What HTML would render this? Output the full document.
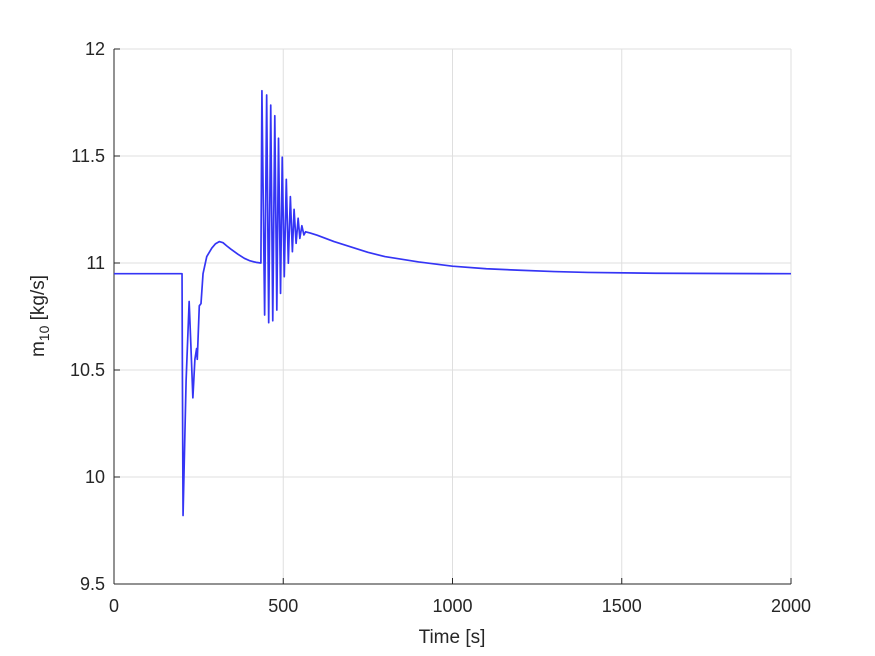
<!DOCTYPE html>
<html><head><meta charset="utf-8"><style>
body{margin:0;background:#fff;}
svg{display:block;font-family:"Liberation Sans",Arial,sans-serif;}
</style></head><body>
<svg id="chart" width="875" height="656">
<rect width="875" height="656" fill="#fff"/>
<g id="grid"></g>
<g id="axes"></g>
<path id="line" fill="none" stroke="#3535f5" stroke-width="1.7" stroke-linejoin="round"/>
<text x="452" y="643" text-anchor="middle" font-size="19" fill="#262626">Time [s]</text>
<text transform="translate(44,316) rotate(-90)" text-anchor="middle" font-size="19" fill="#262626">m<tspan font-size="14" dy="5">10</tspan><tspan dy="-5"> [kg/s]</tspan></text>
</svg>
<script>
const xTicks=[0,500,1000,1500,2000];
const yTicks=[9.5,10,10.5,11,11.5,12];
const yTickLabels=["9.5","10","10.5","11","11.5","12"];
const times=[0,201,202,204,213,222,227,233,239,244,246,252,257,263,274,289,300,311,322,333,345,367,385,402,420,433,434,437,445,451,457,463,469,475,481,486,492,497,503,509,515,521,527,532,538,544,549,555,561,566,580,600,650,700,750,800,900,1000,1100,1200,1300,1400,1600,1800,2000];
const values=[10.95,10.95,10.5,9.82,10.45,10.82,10.62,10.37,10.55,10.60,10.55,10.80,10.81,10.95,11.03,11.07,11.09,11.10,11.095,11.08,11.065,11.04,11.022,11.01,11.003,11.0,11.0,11.805,10.757,11.785,10.721,11.738,10.730,11.688,10.780,11.583,10.858,11.494,10.936,11.391,10.999,11.310,11.053,11.251,11.092,11.209,11.115,11.174,11.131,11.146,11.14,11.13,11.10,11.075,11.05,11.03,11.005,10.985,10.973,10.966,10.96,10.956,10.952,10.951,10.95];
const X0=114,X1=791,Y0=584,Y1=49;
const sx=v=>X0+(v-0)/2000*(X1-X0);
const sy=v=>Y0-(v-9.5)/2.5*(Y0-Y1);
const NS="http://www.w3.org/2000/svg";
const grid=document.getElementById('grid'),axes=document.getElementById('axes');
function mk(tag,attrs,parent){const e=document.createElementNS(NS,tag);for(const k in attrs)e.setAttribute(k,attrs[k]);parent.appendChild(e);return e;}
xTicks.forEach(t=>{
 const l=mk('line',{x1:sx(t),x2:sx(t),y1:Y1,y2:Y0,stroke:'#dfdfdf','stroke-width':1},grid);
 
 
 const tk=mk('line',{x1:sx(t),x2:sx(t),y1:Y0,y2:Y0-6,stroke:'#262626','stroke-width':1},axes);
 
 
 const tx=mk('text',{x:sx(t),y:Y0+28,'text-anchor':'middle','font-size':18,fill:'#262626'},axes);
 tx.textContent=t;
 
 
});
yTicks.forEach((t,i)=>{
 const l=mk('line',{x1:X0,x2:X1,y1:sy(t),y2:sy(t),stroke:'#dfdfdf','stroke-width':1},grid);
 
 
 const tk=mk('line',{x1:X0,x2:X0+6,y1:sy(t),y2:sy(t),stroke:'#262626','stroke-width':1},axes);
 
 
 const tx=mk('text',{x:X0-9,y:sy(t)+6,'text-anchor':'end','font-size':18,fill:'#262626'},axes);
 tx.textContent=yTickLabels[i];
 
 
});
const xa=mk('line',{x1:X0,x2:X1,y1:Y0,y2:Y0,stroke:'#262626','stroke-width':1},axes);


const ya=mk('line',{x1:X0,x2:X0,y1:Y0,y2:Y1,stroke:'#262626','stroke-width':1},axes);


document.getElementById('line').setAttribute('d',times.map((t,i)=>(i?'L':'M')+sx(t).toFixed(2)+','+sy(values[i]).toFixed(2)).join(''));
</script>
</body></html>
